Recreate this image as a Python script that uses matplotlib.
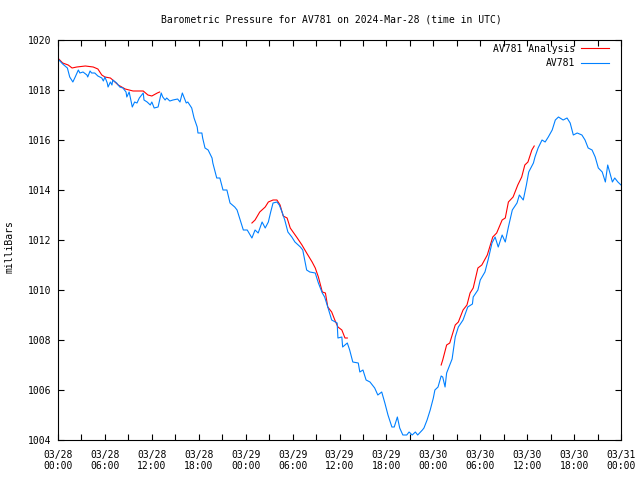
import matplotlib
matplotlib.use("Agg")
import matplotlib.pyplot as plt
from matplotlib.ticker import MultipleLocator, FixedLocator

# hours since 2024-03-28 00:00 UTC, pressure in millibars
obs_hours = [0.0, 0.6, 1.2, 1.5, 1.9, 2.2, 2.6, 2.8, 3.2, 3.7, 3.8, 4.1, 4.3, 4.7, 5.1, 5.6, 5.8,
             6.0, 6.3, 6.4, 6.7, 6.9, 7.0, 7.5, 7.9, 8.3, 8.7, 8.8, 9.1, 9.5, 9.8, 10.1, 10.4,
             10.9, 11.0, 11.4, 11.8, 12.0, 12.3, 12.8, 13.2, 13.4, 13.7, 13.9, 14.3, 14.7, 15.3,
             15.6, 15.9, 16.1, 16.4, 16.6, 17.1, 17.4, 17.8, 17.9, 18.4, 18.5, 18.8, 19.2, 19.7,
             19.8, 20.3, 20.7, 21.1, 21.6, 22.0, 22.6, 22.9, 23.3, 23.7, 24.2, 24.8, 25.2, 25.6,
             26.1, 26.5, 26.9, 27.2, 27.5, 28.0, 28.3, 28.7, 29.0, 29.4, 29.9, 30.3, 31.0, 31.3,
             31.8, 32.2, 32.9, 33.3, 33.8, 34.1, 34.5, 35.0, 35.7, 35.8, 36.3, 36.4, 37.0, 37.3,
             37.7, 38.4, 38.6, 39.0, 39.4, 39.9, 40.5, 40.9, 41.4, 41.8, 42.2, 42.7, 43.0, 43.4,
             43.7, 44.1, 44.6, 44.9, 45.3, 45.7, 46.0, 46.6, 46.8, 47.2, 47.6, 48.0, 48.2, 48.6,
             49.0, 49.2, 49.5, 49.7, 50.4, 50.8, 51.2, 51.8, 52.4, 53.0, 53.1, 53.7, 54.0, 54.6,
             55.0, 55.5, 55.9, 56.3, 56.8, 57.2, 57.6, 58.1, 58.7, 59.0, 59.5, 59.9, 60.2, 60.8,
             61.0, 61.4, 61.9, 62.3, 62.7, 63.2, 63.6, 64.0, 64.6, 65.1, 65.5, 65.9, 66.4, 67.0,
             67.4, 67.8, 68.3, 68.7, 69.1, 69.6, 70.0, 70.3, 70.9, 71.2, 71.6, 72.0]
obs_mbar = [1019.24, 1019.04, 1018.88, 1018.52, 1018.32, 1018.52, 1018.80, 1018.68, 1018.72,
            1018.60, 1018.52, 1018.76, 1018.68, 1018.68, 1018.56, 1018.48, 1018.36, 1018.52,
            1018.28, 1018.12, 1018.32, 1018.20, 1018.40, 1018.28, 1018.12, 1018.08, 1017.92,
            1017.72, 1017.92, 1017.32, 1017.52, 1017.48, 1017.68, 1017.88, 1017.60, 1017.52,
            1017.40, 1017.52, 1017.28, 1017.32, 1017.88, 1017.72, 1017.60, 1017.68, 1017.56,
            1017.60, 1017.64, 1017.52, 1017.88, 1017.72, 1017.48, 1017.52, 1017.28, 1016.88,
            1016.52, 1016.28, 1016.28, 1016.08, 1015.68, 1015.60, 1015.28, 1015.08, 1014.48,
            1014.48, 1014.00, 1014.00, 1013.48, 1013.32, 1013.20, 1012.80, 1012.40, 1012.40,
            1012.08, 1012.40, 1012.28, 1012.72, 1012.48, 1012.72, 1013.12, 1013.48, 1013.52,
            1013.40, 1013.08, 1012.80, 1012.32, 1012.12, 1011.92, 1011.72, 1011.60, 1010.80,
            1010.72, 1010.68, 1010.28, 1009.88, 1009.72, 1009.32, 1008.80, 1008.68, 1008.08,
            1008.12, 1007.72, 1007.88, 1007.60, 1007.12, 1007.08, 1006.72, 1006.80, 1006.40,
            1006.32, 1006.08, 1005.80, 1005.92, 1005.48, 1005.00, 1004.52, 1004.52, 1004.92,
            1004.48, 1004.20, 1004.20, 1004.32, 1004.20, 1004.32, 1004.20, 1004.40, 1004.48,
            1004.80, 1005.20, 1005.68, 1006.00, 1006.12, 1006.56, 1006.52, 1006.12, 1006.68,
            1007.24, 1008.12, 1008.52, 1008.80, 1009.32, 1009.44, 1009.72, 1010.00, 1010.40,
            1010.72, 1011.20, 1011.88, 1012.12, 1011.72, 1012.20, 1011.92, 1012.52, 1013.20,
            1013.48, 1013.80, 1013.60, 1014.20, 1014.72, 1015.08, 1015.32, 1015.68, 1016.00,
            1015.92, 1016.12, 1016.40, 1016.80, 1016.92, 1016.80, 1016.88, 1016.68, 1016.20,
            1016.28, 1016.20, 1016.00, 1015.68, 1015.60, 1015.32, 1014.88, 1014.72, 1014.32,
            1015.00, 1014.32, 1014.48, 1014.32, 1014.20]

# analysis comes in three separate runs
ana1_hours = [0.1, 0.6, 1.3, 1.8, 2.4, 3.5, 4.5, 5.1, 5.6, 6.0, 6.7, 7.0, 7.7, 8.6, 9.6, 10.9,
              11.5, 12.0, 12.7, 13.0]
ana1_mbar = [1019.24, 1019.08, 1019.00, 1018.88, 1018.92, 1018.96, 1018.92, 1018.84, 1018.60,
             1018.52, 1018.48, 1018.40, 1018.20, 1018.04, 1017.96, 1017.96, 1017.80, 1017.76,
             1017.88, 1017.92]
ana2_hours = [24.8, 25.2, 25.8, 26.5, 26.9, 27.5, 28.0, 28.4, 28.8, 29.3, 29.7, 30.6, 31.2,
              31.8, 32.5, 32.9, 33.3, 33.8, 34.2, 34.5, 35.0, 35.4, 35.8, 36.3, 36.7, 37.0]
ana2_mbar = [1012.68, 1012.80, 1013.12, 1013.32, 1013.52, 1013.60, 1013.60, 1013.40, 1012.96,
             1012.88, 1012.48, 1012.08, 1011.80, 1011.48, 1011.12, 1010.88, 1010.52, 1009.92,
             1009.88, 1009.32, 1009.12, 1008.80, 1008.52, 1008.40, 1008.08, 1008.08]
ana3_hours = [49.0, 49.2, 49.7, 50.1, 50.8, 51.2, 51.8, 52.3, 52.7, 53.1, 53.7, 54.2, 54.9,
              55.6, 56.1, 56.8, 57.2, 57.6, 58.2, 58.8, 59.3, 59.7, 60.1, 60.6, 60.9]
ana3_mbar = [1007.00, 1007.20, 1007.80, 1007.88, 1008.60, 1008.72, 1009.20, 1009.40, 1009.88,
             1010.08, 1010.88, 1011.00, 1011.40, 1012.12, 1012.28, 1012.80, 1012.88, 1013.52,
             1013.72, 1014.20, 1014.52, 1015.00, 1015.12, 1015.60, 1015.76]

tick_hours = [0, 6, 12, 18, 24, 30, 36, 42, 48, 54, 60, 66, 72]
tick_labels = ["03/28\n00:00", "03/28\n06:00", "03/28\n12:00", "03/28\n18:00",
               "03/29\n00:00", "03/29\n06:00", "03/29\n12:00", "03/29\n18:00",
               "03/30\n00:00", "03/30\n06:00", "03/30\n12:00", "03/30\n18:00",
               "03/31\n00:00"]

plt.rcParams['font.family'] = ['DejaVu Sans Mono']
plt.rcParams['font.size'] = 7

fig = plt.figure(figsize=(6.4, 4.8), dpi=100)
ax = fig.add_axes([58 / 640, 40 / 480, 563 / 640, 400 / 480])

red = '#ff0000'
blue = '#0080ff'
ax.plot(ana1_hours, ana1_mbar, color=red, lw=0.8, label='AV781 Analysis')
ax.plot(ana2_hours, ana2_mbar, color=red, lw=0.8)
ax.plot(ana3_hours, ana3_mbar, color=red, lw=0.8)
ax.plot(obs_hours, obs_mbar, color=blue, lw=0.8, label='AV781')

ax.set_xlim(0, 72)
ax.set_ylim(1004, 1020)
ax.xaxis.set_major_locator(FixedLocator(tick_hours))
ax.set_xticklabels(tick_labels)
ax.xaxis.set_minor_locator(MultipleLocator(3))
ax.yaxis.set_major_locator(MultipleLocator(2))

ax.tick_params(which='both', direction='in', top=True, right=True, length=4, width=0.8,
               labelsize=7)
ax.tick_params(axis='x', which='major', pad=7)
ax.tick_params(axis='y', pad=5)
for s in ax.spines.values():
    s.set_linewidth(0.8)

ax.legend(loc='upper right', bbox_to_anchor=(1 - 6 / 563, 1 + 2 / 400), frameon=False,
          markerfirst=False, fontsize=7, handlelength=2.9, handletextpad=0.6,
          borderaxespad=0.2, labelspacing=0.45)

fig.text(331 / 640, 1 - 19 / 480, 'Barometric Pressure for AV781 on 2024-Mar-28 (time in UTC)',
         ha='center', va='center', fontsize=7)
fig.text(10 / 640, 1 - 247 / 480, 'milliBars', rotation=90, ha='center', va='center',
         fontsize=7)

fig.savefig('out.png', dpi=100)
